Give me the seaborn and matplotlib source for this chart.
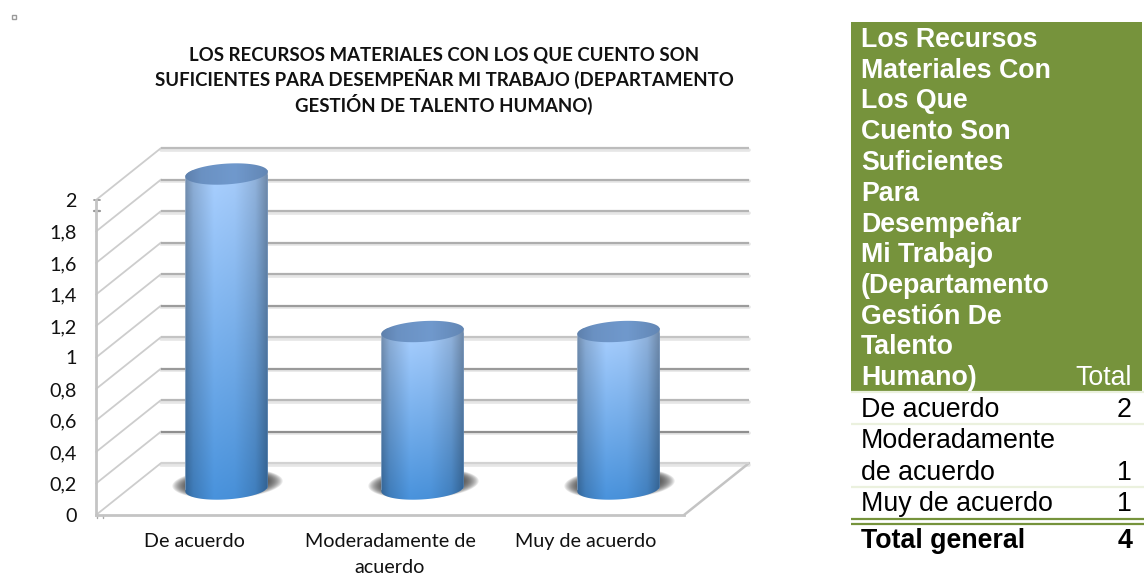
import numpy as np
import pandas as pd
import matplotlib
matplotlib.use("Agg")
import matplotlib.pyplot as plt
from matplotlib.patches import Polygon, Rectangle
import seaborn as sns

TITLE = ("LOS RECURSOS MATERIALES CON LOS QUE CUENTO SON\n"
         "SUFICIENTES PARA DESEMPEÑAR MI TRABAJO (DEPARTAMENTO\n"
         "GESTIÓN DE TALENTO HUMANO)")
categories = ["De acuerdo", "Moderadamente de\nacuerdo", "Muy de acuerdo"]
values = [2, 1, 1]
y_ticks = [0, 0.2, 0.4, 0.6, 0.8, 1, 1.2, 1.4, 1.6, 1.8, 2]
y_labels = ["0", "0,2", "0,4", "0,6", "0,8", "1", "1,2", "1,4", "1,6", "1,8", "2"]
grid_greys = ["#d2d2d2", "#8f8f8f", "#b8b8b8", "#9a9a9a", "#c4c4c4",
              "#9c9c9c", "#b0b0b0", "#adadad", "#b4b4b4", "#b0b0b0", "#bcbcbc"]

table_header = ["Los Recursos", "Materiales Con", "Los Que", "Cuento Son", "Suficientes",
                "Para", "Desempeñar", "Mi Trabajo", "(Departamento", "Gestión De",
                "Talento", "Humano)"]
table_total_label = "Total"
table_rows = [(["De acuerdo"], "2"), (["Moderadamente", "de acuerdo"], "1"), (["Muy de acuerdo"], "1")]
table_foot = ("Total general", "4")

sns.set_theme(style="white")
plt.rcParams["font.family"] = ["Lato", "DejaVu Sans"]
W, H = 1144, 576
fig = plt.figure(figsize=(W / 100, H / 100), dpi=100, facecolor="white")
ax = fig.add_axes([96 / W, (H - 515) / H, 588 / W, 315 / H])

df = pd.DataFrame({"cat": categories, "val": values})
BAR_W = 0.42
sns.barplot(data=df, x="cat", y="val", ax=ax, width=BAR_W, color="#6fa3e0",
            saturation=1, errorbar=None, zorder=3)
ax.set_xlim(-0.5, 2.5)
ax.set_ylim(0, 2)
ax.set_xlabel("")
ax.set_ylabel("")
ax.set_yticks(y_ticks)
ax.set_yticklabels(y_labels, fontsize=14.2, color="#111111")
ax.tick_params(axis="y", length=0, pad=14)
ax.tick_params(axis="x", length=0, pad=13, labelsize=14.2, labelcolor="#111111")
for lab in ax.get_xticklabels():
    lab.set_linespacing(1.62)
for s in ["top", "right"]:
    ax.spines[s].set_visible(False)
for s in ["left", "bottom"]:
    ax.spines[s].set_color("#c4c4c4")
    ax.spines[s].set_linewidth(2)
ax.patch.set_alpha(0)

# 3-D depth of the box, in data units
DX, DY = 0.332, 0.33
x0, x1 = -0.5, 2.5
for v, g in zip(y_ticks, grid_greys):
    ax.plot([x0 + DX, x1 + DX], [v + DY - 0.012] * 2, color="#e6e6e6", lw=2.6, zorder=1, clip_on=False)
    ax.plot([x0 + DX, x1 + DX], [v + DY] * 2, color=g, lw=1.6, zorder=1.2, clip_on=False,
            solid_capstyle="butt")
    ax.plot([x0, x0 + DX], [v, v + DY], color="#cdcdcd", lw=1.3, zorder=1, clip_on=False)
ax.plot([x1, x1 + DX], [0, DY], color="#c4c4c4", lw=1.8, zorder=1, clip_on=False)

# front-axis tick stubs
ax.plot([x0 - 0.009, x0 + 0.02], [2, 2], color="#9a9a9a", lw=1.3, clip_on=False, zorder=2)
ax.plot([x0 - 0.009, x0 + 0.02], [1.93, 1.93], color="#9a9a9a", lw=1.6, clip_on=False, zorder=2)
ax.plot([x0 + 0.007, x0 + 0.007], [0, -0.022], color="#aaaaaa", lw=1, clip_on=False, zorder=2)
ax.plot([x0 + 0.037, x0 + 0.037], [0, -0.022], color="#aaaaaa", lw=1, clip_on=False, zorder=2)


def ellipse_xy(cx, cy, a, b, shear, t):
    return np.column_stack([cx + a * np.cos(t), cy + b * np.sin(t) + shear * np.cos(t)])


ELL_B, SHEAR = 0.066, 0.016
t_low = np.linspace(np.pi, 2 * np.pi, 60)
t_up = np.linspace(0, np.pi, 60)
t_all = np.linspace(0, 2 * np.pi, 120)

top_c = np.array([170, 208, 255]) / 255
bot_c = np.array([72, 146, 220]) / 255
u = np.linspace(0, 1, 120)
shade = np.interp(u, [0, 0.1, 0.35, 0.6, 0.85, 1], [0.68, 0.84, 1.0, 0.98, 0.86, 0.66])
v_ramp = np.linspace(0, 1, 160)
grad = np.zeros((160, 120, 3))
for i, f in enumerate(v_ramp):
    grad[i] = (top_c * (1 - f) + bot_c * f)[None, :] * shade[:, None]
top_grad = np.array([112, 153, 205]) / 255 * np.interp(u, [0, 0.2, 0.6, 1], [0.84, 0.95, 1.0, 0.88])[:, None]
top_grad = top_grad[None, :, :]

for rect in list(ax.containers[0]):
    rect.set_x(rect.get_x() + DX / 2)
    rect.set_y(DY / 2)
    left, w, h = rect.get_x(), rect.get_width(), rect.get_height()
    cx, a = left + w / 2, w / 2
    base, top = DY / 2, DY / 2 + h
    # soft base shadow
    for k in np.linspace(1, 0, 14):
        sx, sy = a * (1.0 + 0.34 * k), ELL_B * (1.0 + 0.45 * k)
        ax.add_patch(Polygon(ellipse_xy(cx + 0.005, base + 0.035, sx, sy, SHEAR, t_all), closed=True,
                             fc="#404040", ec="none", alpha=0.11, zorder=2, clip_on=False))
    body = Polygon(np.vstack([ellipse_xy(cx, base, a, ELL_B, SHEAR, t_low),
                              ellipse_xy(cx, top, a, ELL_B, SHEAR, t_up)]),
                   closed=True, transform=ax.transData, fc="none", ec="none")
    ax.add_patch(body)
    body.set_clip_on(False)
    rect.set_clip_path(body)
    rect.set_clip_box(fig.bbox)
    im = ax.imshow(grad, extent=(left, left + w, base - ELL_B - SHEAR, top + 0.02), aspect="auto",
                   zorder=4, interpolation="bilinear")
    im.set_clip_path(body)
    im.set_clip_box(fig.bbox)
    lid = Polygon(ellipse_xy(cx, top, a, ELL_B, SHEAR, t_all), closed=True, transform=ax.transData,
                  fc="none", ec="none")
    ax.add_patch(lid)
    lid.set_clip_on(False)
    im2 = ax.imshow(top_grad, extent=(left, left + w, top - ELL_B - SHEAR, top + ELL_B + SHEAR),
                    aspect="auto", zorder=5, interpolation="bilinear")
    im2.set_clip_path(lid)
    im2.set_clip_box(fig.bbox)
ax.set_xlim(-0.5, 2.5)
ax.set_ylim(0, 2)

# overlay in pixel coordinates: title, corner mark, table
ov = fig.add_axes([0, 0, 1, 1], facecolor="none")
ov.set_xlim(0, W)
ov.set_ylim(H, 0)
ov.axis("off")
ov.text(444, 81, TITLE, ha="center", va="center", fontsize=13.4, fontweight="bold",
        color="#111111", linespacing=1.3)
ov.add_patch(Rectangle((12, 15), 4, 4, fc="white", ec="#9a9a9a", lw=1))

GREEN = "#76933c"
PALE = "#ebf1de"
TF = ["Liberation Sans", "DejaVu Sans"]
FS = 19.3
LS = 30.75
ov.add_patch(Rectangle((851, 22), 291, 369, fc=GREEN, ec="none"))
for i, line in enumerate(table_header):
    ov.text(861, 47 + i * LS, line, ha="left", va="baseline", fontsize=FS, fontweight="bold",
            color="white", family=TF)
ov.text(1132, 385, table_total_label, ha="right", va="baseline", fontsize=FS, color="white", family=TF)
row_base = 417
RS = 31.4
y = row_base
for lines, val in table_rows:
    for i, line in enumerate(lines):
        ov.text(861, y + i * RS, line, ha="left", va="baseline", fontsize=FS, color="black", family=TF)
    ov.text(1132, y + (len(lines) - 1) * RS, val, ha="right", va="baseline", fontsize=FS, color="black", family=TF)
    y += len(lines) * RS
for yy in [391.5, 424, 487]:
    ov.plot([851, 1144], [yy, yy], color=PALE, lw=1.6, solid_capstyle="butt")
for yy in [519, 523.5]:
    ov.plot([851, 1144], [yy, yy], color=GREEN, lw=1.6, solid_capstyle="butt")
ov.text(861, 548, table_foot[0], ha="left", va="baseline", fontsize=FS, fontweight="bold", color="black", family=TF)
ov.text(1132, 548, table_foot[1], ha="right", va="baseline", fontsize=FS, fontweight="bold", color="black", family=TF)

fig.savefig("out.png", dpi=100)
